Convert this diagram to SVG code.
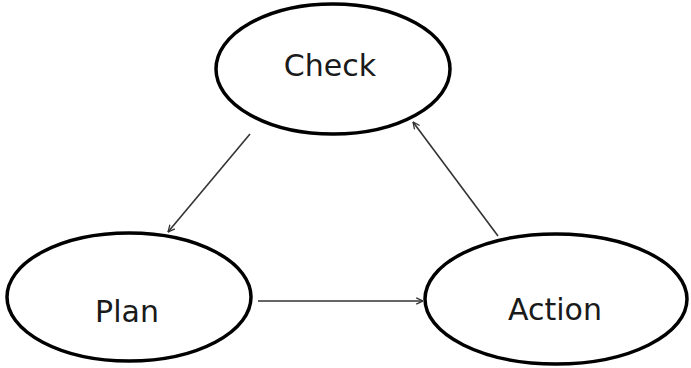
<svg xmlns="http://www.w3.org/2000/svg" width="691" height="368" viewBox="0 0 691 368">
<defs>
<style>
.node{fill:#fff;stroke:#000;stroke-width:3.5}
.lbl{font-family:"DejaVu Sans",sans-serif;font-size:30px;fill:#1a1a1a;text-anchor:middle}
.conn{stroke:#333;stroke-width:1.6;fill:none;marker-end:url(#ah)}
</style>
<marker id="ah" viewBox="0 0 10 10" refX="9.5" refY="5" markerWidth="8" markerHeight="8" markerUnits="userSpaceOnUse" orient="auto">
<path d="M1,1 L9.5,5 L1,9" fill="none" stroke="#333" stroke-width="1.6"/>
</marker>
</defs>
<rect width="691" height="368" fill="#fff"/>
<g id="check"><ellipse class="node" cx="333" cy="69" rx="117" ry="65"/><text class="lbl" x="330" y="76">Check</text></g>
<g id="plan"><ellipse class="node" cx="129" cy="297" rx="122" ry="64"/><text class="lbl" x="127" y="322">Plan</text></g>
<g id="action"><ellipse class="node" cx="556" cy="299" rx="131" ry="65"/><text class="lbl" x="555" y="320">Action</text></g>
<g id="connectors">
<line class="conn" x1="250" y1="134" x2="168" y2="232"/>
<line class="conn" x1="258" y1="301" x2="423" y2="301"/>
<line class="conn" x1="498" y1="236" x2="413" y2="122"/>
</g>
</svg>
